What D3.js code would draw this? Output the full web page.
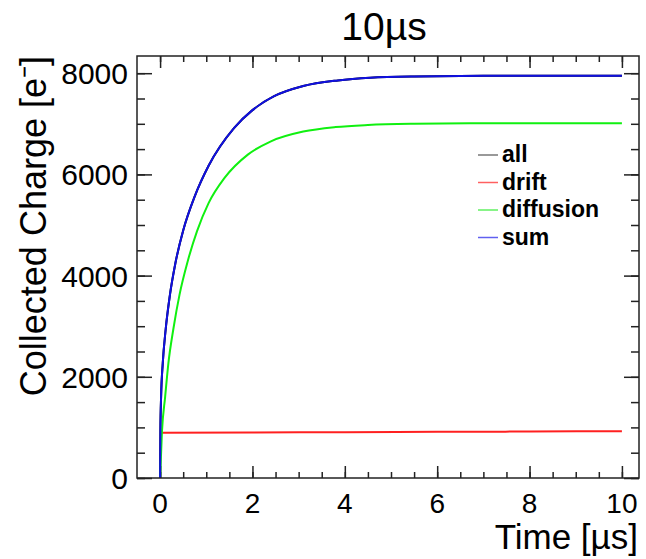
<!DOCTYPE html>
<html>
<head>
<meta charset="utf-8">
<script src="https://cdn.jsdelivr.net/npm/d3@7"></script>
<style>
  body { margin: 0; background: #fff; }
  text { font-family: "Liberation Sans", Arial, sans-serif; }
</style>
</head>
<body>
<div class="chart"></div>
<script>
// values
const sumTimes = [0, 0.0065, 0.022, 0.058, 0.12, 0.21, 0.33, 0.5, 0.75, 1.05, 1.6, 2.0, 2.47, 3.1, 3.85, 4.55, 5.5, 7, 10];
const sumValues = [0, 950, 1610, 2270, 2930, 3600, 4240, 4890, 5565, 6170, 6915, 7270, 7545, 7746, 7858, 7912, 7937, 7948, 7952];
const allValues = sumValues.slice(); // lies under the sum curve
const diffusionTimes = [0, 0.04, 0.11, 0.18, 0.29, 0.42, 0.6, 0.8, 1.05, 1.4, 1.9, 2.4, 3.1, 3.8, 4.5, 5.5, 6.7, 10];
const diffusionValues = [0, 910, 1610, 2270, 2960, 3620, 4290, 4880, 5432, 5935, 6391, 6654, 6846, 6935, 6976, 7000, 7009, 7012];
const driftTimes = [0.035, 2, 4, 6, 8, 10];
const driftValues = [895, 900, 905, 912, 918, 925];

const xTicks = [0, 2, 4, 6, 8, 10];
const yTicks = [0, 2000, 4000, 6000, 8000];

const series = [
  {name: 'all', color: '#000000', legend: '#777777', t: sumTimes, v: allValues},
  {name: 'drift', color: '#ff2020', legend: '#ff6060', t: driftTimes, v: driftValues},
  {name: 'diffusion', color: '#10f010', legend: '#60f060', t: diffusionTimes, v: diffusionValues},
  {name: 'sum', color: '#1010e0', legend: '#6060f0', t: sumTimes, v: sumValues},
];

const width = 646;
const height = 559;
const pLeft = 137, pRight = 639, pTop = 56, pBottom = 478;

const svg = d3.select('.chart').append('svg')
  .attr('width', width)
  .attr('height', height);

const x = d3.scaleLinear().domain([-0.5, 10.37]).range([pLeft, pRight]);
const y = d3.scaleLinear().domain([0, 8340]).range([pBottom, pTop]);

const axisColor = '#222';

// minor + major ticks, ROOT style (all four sides)
function addTicks(g, axis) {
  g.call(axis).call(g=>g.select('.domain').remove());
  g.selectAll('line').attr('stroke', axisColor).attr('stroke-width', 1.5);
}

const xMinor = d3.range(0, 10.01, 0.5);
const yMinor = d3.range(0, 8340, 500);

svg.append('g').attr('transform', `translate(0,${pBottom})`)
  .call(g=>addTicks(g, d3.axisTop(x).tickValues(xMinor).tickSize(6).tickFormat('')));
svg.append('g').attr('transform', `translate(0,${pBottom})`)
  .call(g=>addTicks(g, d3.axisTop(x).tickValues(xTicks).tickSize(12).tickFormat('')));
svg.append('g').attr('transform', `translate(0,${pTop})`)
  .call(g=>addTicks(g, d3.axisBottom(x).tickValues(xMinor).tickSize(6).tickFormat('')));
svg.append('g').attr('transform', `translate(0,${pTop})`)
  .call(g=>addTicks(g, d3.axisBottom(x).tickValues(xTicks).tickSize(12).tickFormat('')));

svg.append('g').attr('transform', `translate(${pLeft},0)`)
  .call(g=>addTicks(g, d3.axisRight(y).tickValues(yMinor).tickSize(8).tickFormat('')));
svg.append('g').attr('transform', `translate(${pLeft},0)`)
  .call(g=>addTicks(g, d3.axisRight(y).tickValues(yTicks).tickSize(15).tickFormat('')));
svg.append('g').attr('transform', `translate(${pRight},0)`)
  .call(g=>addTicks(g, d3.axisLeft(y).tickValues(yMinor).tickSize(8).tickFormat('')));
svg.append('g').attr('transform', `translate(${pRight},0)`)
  .call(g=>addTicks(g, d3.axisLeft(y).tickValues(yTicks).tickSize(15).tickFormat('')));

// tick labels
svg.selectAll('.x-label')
  .data(xTicks)
  .enter()
  .append('text')
  .attr('class', 'x-label')
  .attr('x', d=>x(d))
  .attr('y', 513)
  .attr('text-anchor', 'middle')
  .attr('font-size', 28)
  .text(d=>d);

svg.selectAll('.y-label')
  .data(yTicks)
  .enter()
  .append('text')
  .attr('class', 'y-label')
  .attr('x', 128)
  .attr('y', d=>y(d))
  .attr('dy', 11)
  .attr('text-anchor', 'end')
  .attr('font-size', 30)
  .text(d=>d);

// curves
const line = d3.line()
  .x(d=>x(d[0]))
  .y(d=>y(d[1]))
  .curve(d3.curveMonotoneX);

series.forEach(s=>{
  svg.append('path')
    .datum(s.t.map((t,i)=>[t, s.v[i]]))
    .attr('fill', 'none')
    .attr('stroke', s.color)
    .attr('stroke-width', 2)
    .attr('d', line);
});

// frame
svg.append('rect')
  .attr('x', pLeft).attr('y', pTop)
  .attr('width', pRight-pLeft).attr('height', pBottom-pTop)
  .attr('fill', 'none')
  .attr('stroke', axisColor)
  .attr('stroke-width', 1.5);

// legend
const legend = svg.append('g').attr('transform', 'translate(478,155)');
series.forEach((s,i)=>{
  legend.append('line')
    .attr('x1', 0).attr('x2', 20)
    .attr('y1', i*27.5).attr('y2', i*27.5)
    .attr('stroke', s.legend)
    .attr('stroke-width', 1.5);
  legend.append('text')
    .attr('x', 24)
    .attr('y', i*27.5)
    .attr('dy', 7)
    .attr('font-size', 23)
    .attr('font-weight', 'bold')
    .text(s.name);
});

// titles
svg.append('text')
  .attr('x', 384).attr('y', 40)
  .attr('text-anchor', 'middle')
  .attr('font-size', 39)
  .text('10µs');

svg.append('text')
  .attr('x', 638).attr('y', 549)
  .attr('text-anchor', 'end')
  .attr('font-size', 35)
  .text('Time [µs]');

svg.append('text')
  .attr('transform', 'translate(46,56) rotate(-90)')
  .attr('text-anchor', 'end')
  .attr('font-size', 36)
  .text('Collected Charge [e⁻]');
</script>
</body>
</html>
